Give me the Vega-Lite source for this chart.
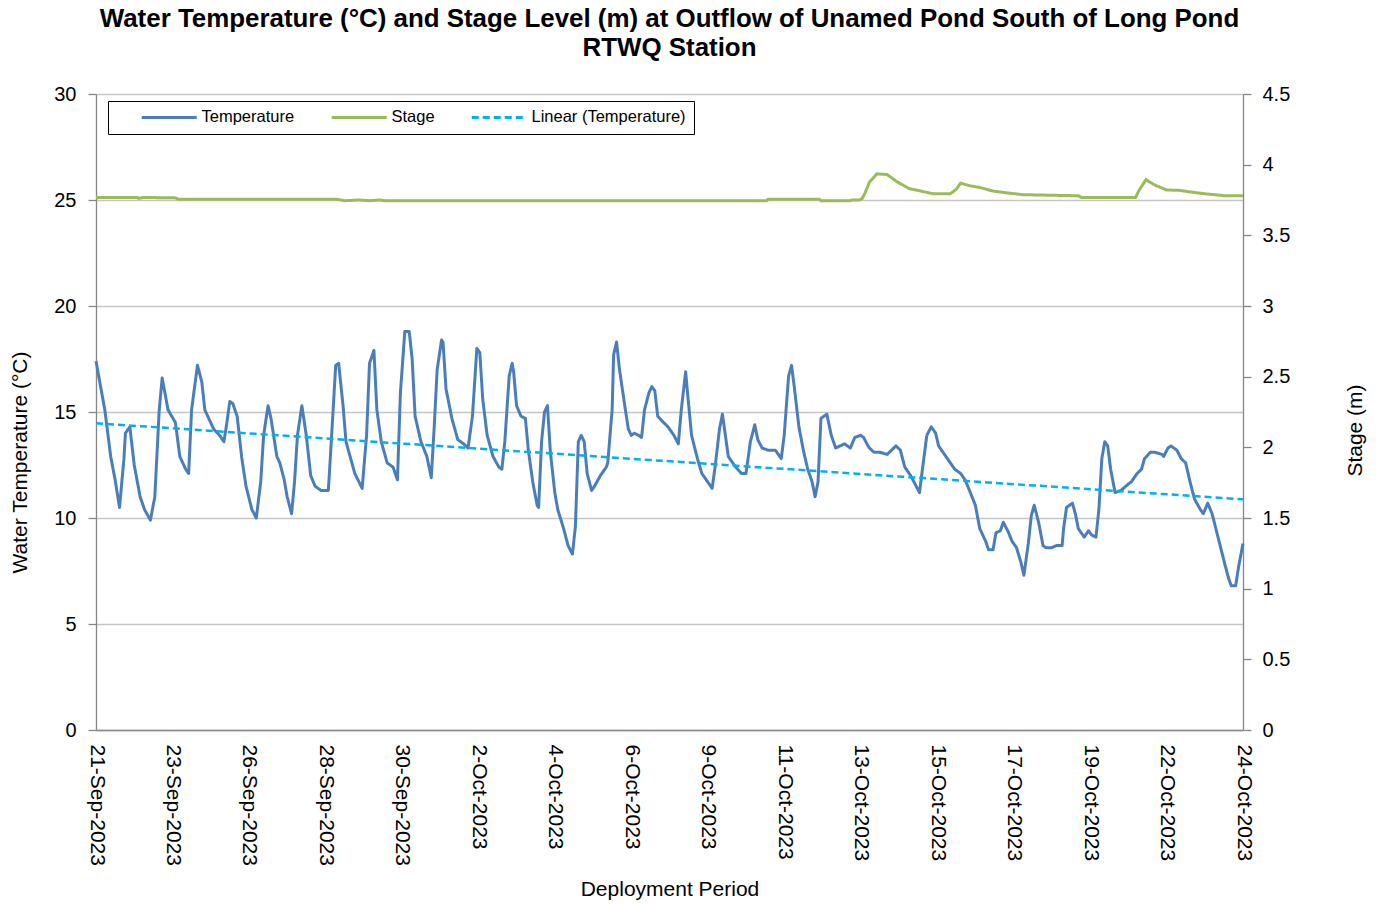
{
  "$schema": "https://vega.github.io/schema/vega-lite/v6.json",
  "width": 1147,
  "height": 636,
  "autosize": {"type": "none"},
  "padding": {"left": 96, "top": 94, "right": 138, "bottom": 174},
  "background": "white",
  "title": {
    "text": ["Water Temperature (°C) and Stage Level (m) at Outflow of Unamed Pond South of Long Pond", "RTWQ Station"],
    "font": "Liberation Sans", "fontSize": 25.9, "fontWeight": "bold", "color": "black",
    "anchor": "middle", "lineHeight": 29, "offset": 22
  },
  "config": {
    "view": {"stroke": null},
    "font": "Liberation Sans",
    "axis": {
      "labelFont": "Liberation Sans", "titleFont": "Liberation Sans",
      "labelColor": "black", "titleColor": "black", "titleFontWeight": "normal",
      "domainColor": "#868686", "tickColor": "#868686", "gridColor": "#C6C6C6",
      "domainWidth": 1.3, "gridWidth": 1.3, "tickWidth": 1.3
    }
  },
  "datasets": {
    "temperature": [
      {"time": "2023-09-21T17:00", "temp": 17.4}, {"time": "2023-09-21T23:00", "temp": 15.1},
      {"time": "2023-09-22T03:00", "temp": 12.9}, {"time": "2023-09-22T06:00", "temp": 11.8}, {"time": "2023-09-22T09:00", "temp": 10.5}, {"time": "2023-09-22T12:00", "temp": 12.8}, {"time": "2023-09-22T13:00", "temp": 14.0}, {"time": "2023-09-22T16:00", "temp": 14.3}, {"time": "2023-09-22T19:00", "temp": 12.5}, {"time": "2023-09-22T23:00", "temp": 11.0},
      {"time": "2023-09-23T02:00", "temp": 10.4}, {"time": "2023-09-23T06:00", "temp": 9.9}, {"time": "2023-09-23T09:00", "temp": 11.0}, {"time": "2023-09-23T12:00", "temp": 15.1}, {"time": "2023-09-23T14:00", "temp": 16.6}, {"time": "2023-09-23T18:00", "temp": 15.1}, {"time": "2023-09-23T23:00", "temp": 14.5},
      {"time": "2023-09-24T02:00", "temp": 12.9}, {"time": "2023-09-24T06:00", "temp": 12.3}, {"time": "2023-09-24T08:00", "temp": 12.1}, {"time": "2023-09-24T10:00", "temp": 15.1}, {"time": "2023-09-24T14:00", "temp": 17.2}, {"time": "2023-09-24T17:00", "temp": 16.4}, {"time": "2023-09-24T19:00", "temp": 15.1},
      {"time": "2023-09-25T01:00", "temp": 14.2}, {"time": "2023-09-25T05:00", "temp": 13.9}, {"time": "2023-09-25T08:00", "temp": 13.6}, {"time": "2023-09-25T10:00", "temp": 14.5}, {"time": "2023-09-25T12:00", "temp": 15.5}, {"time": "2023-09-25T14:00", "temp": 15.4}, {"time": "2023-09-25T17:00", "temp": 14.8}, {"time": "2023-09-25T20:00", "temp": 12.9}, {"time": "2023-09-25T23:00", "temp": 11.5},
      {"time": "2023-09-26T03:00", "temp": 10.4}, {"time": "2023-09-26T06:00", "temp": 10.0}, {"time": "2023-09-26T09:00", "temp": 11.7}, {"time": "2023-09-26T11:00", "temp": 13.9}, {"time": "2023-09-26T14:00", "temp": 15.3}, {"time": "2023-09-26T16:00", "temp": 14.7}, {"time": "2023-09-26T20:00", "temp": 12.9}, {"time": "2023-09-26T22:00", "temp": 12.6},
      {"time": "2023-09-27T01:00", "temp": 11.8}, {"time": "2023-09-27T03:00", "temp": 11.0}, {"time": "2023-09-27T06:00", "temp": 10.2}, {"time": "2023-09-27T08:00", "temp": 11.7}, {"time": "2023-09-27T10:00", "temp": 13.9}, {"time": "2023-09-27T13:00", "temp": 15.3}, {"time": "2023-09-27T16:00", "temp": 13.9}, {"time": "2023-09-27T19:00", "temp": 12.0}, {"time": "2023-09-27T22:00", "temp": 11.5},
      {"time": "2023-09-28T02:00", "temp": 11.3}, {"time": "2023-09-28T07:00", "temp": 11.3}, {"time": "2023-09-28T09:00", "temp": 13.6}, {"time": "2023-09-28T12:00", "temp": 17.2}, {"time": "2023-09-28T14:00", "temp": 17.3}, {"time": "2023-09-28T17:00", "temp": 15.3}, {"time": "2023-09-28T19:00", "temp": 13.6},
      {"time": "2023-09-29T01:00", "temp": 12.1}, {"time": "2023-09-29T06:00", "temp": 11.4}, {"time": "2023-09-29T09:00", "temp": 13.9}, {"time": "2023-09-29T11:00", "temp": 17.3}, {"time": "2023-09-29T14:00", "temp": 17.9}, {"time": "2023-09-29T16:00", "temp": 15.1}, {"time": "2023-09-29T19:00", "temp": 13.6}, {"time": "2023-09-29T23:00", "temp": 12.6},
      {"time": "2023-09-30T03:00", "temp": 12.4}, {"time": "2023-09-30T06:00", "temp": 11.8}, {"time": "2023-09-30T08:00", "temp": 15.9}, {"time": "2023-09-30T11:00", "temp": 18.8}, {"time": "2023-09-30T14:00", "temp": 18.8}, {"time": "2023-09-30T16:00", "temp": 17.5}, {"time": "2023-09-30T18:00", "temp": 14.8}, {"time": "2023-09-30T22:00", "temp": 13.6},
      {"time": "2023-10-01T02:00", "temp": 12.9}, {"time": "2023-10-01T05:00", "temp": 11.9}, {"time": "2023-10-01T07:00", "temp": 14.3}, {"time": "2023-10-01T09:00", "temp": 17.0}, {"time": "2023-10-01T12:00", "temp": 18.4}, {"time": "2023-10-01T13:00", "temp": 18.3}, {"time": "2023-10-01T15:00", "temp": 16.1}, {"time": "2023-10-01T19:00", "temp": 14.7}, {"time": "2023-10-01T23:00", "temp": 13.7},
      {"time": "2023-10-02T03:00", "temp": 13.5}, {"time": "2023-10-02T06:00", "temp": 13.3}, {"time": "2023-10-02T09:00", "temp": 14.8}, {"time": "2023-10-02T12:00", "temp": 18.0}, {"time": "2023-10-02T14:00", "temp": 17.8}, {"time": "2023-10-02T16:00", "temp": 15.6}, {"time": "2023-10-02T19:00", "temp": 13.9}, {"time": "2023-10-02T23:00", "temp": 12.9},
      {"time": "2023-10-03T03:00", "temp": 12.4}, {"time": "2023-10-03T05:00", "temp": 12.3}, {"time": "2023-10-03T07:00", "temp": 13.6}, {"time": "2023-10-03T10:00", "temp": 16.7}, {"time": "2023-10-03T12:00", "temp": 17.3}, {"time": "2023-10-03T13:00", "temp": 16.9}, {"time": "2023-10-03T15:00", "temp": 15.3}, {"time": "2023-10-03T18:00", "temp": 14.8}, {"time": "2023-10-03T21:00", "temp": 14.7}, {"time": "2023-10-03T23:00", "temp": 13.2},
      {"time": "2023-10-04T02:00", "temp": 11.7}, {"time": "2023-10-04T05:00", "temp": 10.6}, {"time": "2023-10-04T06:00", "temp": 10.5}, {"time": "2023-10-04T08:00", "temp": 13.6}, {"time": "2023-10-04T10:00", "temp": 15.0}, {"time": "2023-10-04T12:00", "temp": 15.3}, {"time": "2023-10-04T14:00", "temp": 13.1}, {"time": "2023-10-04T17:00", "temp": 11.2}, {"time": "2023-10-04T19:00", "temp": 10.4}, {"time": "2023-10-04T23:00", "temp": 9.5},
      {"time": "2023-10-05T02:00", "temp": 8.7}, {"time": "2023-10-05T05:00", "temp": 8.3}, {"time": "2023-10-05T07:00", "temp": 9.6}, {"time": "2023-10-05T09:00", "temp": 13.6}, {"time": "2023-10-05T11:00", "temp": 13.9}, {"time": "2023-10-05T13:00", "temp": 13.6}, {"time": "2023-10-05T15:00", "temp": 12.1}, {"time": "2023-10-05T18:00", "temp": 11.3}, {"time": "2023-10-05T20:00", "temp": 11.5},
      {"time": "2023-10-06T00:00", "temp": 12.0}, {"time": "2023-10-06T04:00", "temp": 12.4}, {"time": "2023-10-06T05:00", "temp": 12.6}, {"time": "2023-10-06T08:00", "temp": 15.1}, {"time": "2023-10-06T09:00", "temp": 17.7}, {"time": "2023-10-06T11:00", "temp": 18.3}, {"time": "2023-10-06T13:00", "temp": 17.0}, {"time": "2023-10-06T17:00", "temp": 15.1}, {"time": "2023-10-06T19:00", "temp": 14.2}, {"time": "2023-10-06T21:00", "temp": 13.9}, {"time": "2023-10-06T23:00", "temp": 14.0},
      {"time": "2023-10-07T02:00", "temp": 13.9}, {"time": "2023-10-07T04:00", "temp": 13.8}, {"time": "2023-10-07T06:00", "temp": 15.1}, {"time": "2023-10-07T09:00", "temp": 15.9}, {"time": "2023-10-07T11:00", "temp": 16.2}, {"time": "2023-10-07T13:00", "temp": 16.0}, {"time": "2023-10-07T15:00", "temp": 14.8}, {"time": "2023-10-07T19:00", "temp": 14.5}, {"time": "2023-10-07T22:00", "temp": 14.3},
      {"time": "2023-10-08T02:00", "temp": 13.9}, {"time": "2023-10-08T05:00", "temp": 13.5}, {"time": "2023-10-08T07:00", "temp": 15.1}, {"time": "2023-10-08T10:00", "temp": 16.9}, {"time": "2023-10-08T11:00", "temp": 16.1}, {"time": "2023-10-08T14:00", "temp": 13.9}, {"time": "2023-10-08T18:00", "temp": 12.8}, {"time": "2023-10-08T21:00", "temp": 12.1},
      {"time": "2023-10-09T00:00", "temp": 11.8}, {"time": "2023-10-09T04:00", "temp": 11.4}, {"time": "2023-10-09T06:00", "temp": 12.4}, {"time": "2023-10-09T09:00", "temp": 14.2}, {"time": "2023-10-09T11:00", "temp": 14.9}, {"time": "2023-10-09T13:00", "temp": 13.9}, {"time": "2023-10-09T15:00", "temp": 12.9}, {"time": "2023-10-09T20:00", "temp": 12.4},
      {"time": "2023-10-10T00:00", "temp": 12.1}, {"time": "2023-10-10T03:00", "temp": 12.1}, {"time": "2023-10-10T06:00", "temp": 13.6}, {"time": "2023-10-10T09:00", "temp": 14.4}, {"time": "2023-10-10T11:00", "temp": 13.7}, {"time": "2023-10-10T14:00", "temp": 13.3}, {"time": "2023-10-10T18:00", "temp": 13.2}, {"time": "2023-10-10T23:00", "temp": 13.2},
      {"time": "2023-10-11T03:00", "temp": 12.8}, {"time": "2023-10-11T05:00", "temp": 13.9}, {"time": "2023-10-11T08:00", "temp": 16.7}, {"time": "2023-10-11T10:00", "temp": 17.2}, {"time": "2023-10-11T12:00", "temp": 16.1}, {"time": "2023-10-11T15:00", "temp": 14.3}, {"time": "2023-10-11T18:00", "temp": 13.2}, {"time": "2023-10-11T21:00", "temp": 12.3},
      {"time": "2023-10-12T00:00", "temp": 11.7}, {"time": "2023-10-12T02:00", "temp": 11.0}, {"time": "2023-10-12T04:00", "temp": 11.7}, {"time": "2023-10-12T06:00", "temp": 14.7}, {"time": "2023-10-12T08:00", "temp": 14.8}, {"time": "2023-10-12T10:00", "temp": 14.9}, {"time": "2023-10-12T13:00", "temp": 13.9}, {"time": "2023-10-12T16:00", "temp": 13.3}, {"time": "2023-10-12T19:00", "temp": 13.4}, {"time": "2023-10-12T22:00", "temp": 13.5},
      {"time": "2023-10-13T02:00", "temp": 13.3}, {"time": "2023-10-13T05:00", "temp": 13.8}, {"time": "2023-10-13T09:00", "temp": 13.9}, {"time": "2023-10-13T11:00", "temp": 13.8}, {"time": "2023-10-13T14:00", "temp": 13.4}, {"time": "2023-10-13T15:00", "temp": 13.3}, {"time": "2023-10-13T18:00", "temp": 13.1}, {"time": "2023-10-13T22:00", "temp": 13.1},
      {"time": "2023-10-14T03:00", "temp": 13.0}, {"time": "2023-10-14T06:00", "temp": 13.2}, {"time": "2023-10-14T09:00", "temp": 13.4}, {"time": "2023-10-14T12:00", "temp": 13.2}, {"time": "2023-10-14T15:00", "temp": 12.4}, {"time": "2023-10-14T19:00", "temp": 12.0}, {"time": "2023-10-14T22:00", "temp": 11.6},
      {"time": "2023-10-15T01:00", "temp": 11.2}, {"time": "2023-10-15T03:00", "temp": 12.3}, {"time": "2023-10-15T06:00", "temp": 13.9}, {"time": "2023-10-15T09:00", "temp": 14.3}, {"time": "2023-10-15T12:00", "temp": 14.0}, {"time": "2023-10-15T14:00", "temp": 13.4}, {"time": "2023-10-15T17:00", "temp": 13.1}, {"time": "2023-10-15T22:00", "temp": 12.6},
      {"time": "2023-10-16T01:00", "temp": 12.3}, {"time": "2023-10-16T05:00", "temp": 12.1}, {"time": "2023-10-16T08:00", "temp": 11.8}, {"time": "2023-10-16T11:00", "temp": 11.3}, {"time": "2023-10-16T15:00", "temp": 10.6}, {"time": "2023-10-16T18:00", "temp": 9.5}, {"time": "2023-10-16T22:00", "temp": 8.9},
      {"time": "2023-10-17T00:00", "temp": 8.5}, {"time": "2023-10-17T03:00", "temp": 8.5}, {"time": "2023-10-17T05:00", "temp": 9.3}, {"time": "2023-10-17T08:00", "temp": 9.4}, {"time": "2023-10-17T10:00", "temp": 9.8}, {"time": "2023-10-17T13:00", "temp": 9.4}, {"time": "2023-10-17T16:00", "temp": 8.9}, {"time": "2023-10-17T19:00", "temp": 8.6}, {"time": "2023-10-17T22:00", "temp": 7.9},
      {"time": "2023-10-18T00:00", "temp": 7.3}, {"time": "2023-10-18T03:00", "temp": 8.8}, {"time": "2023-10-18T05:00", "temp": 10.1}, {"time": "2023-10-18T07:00", "temp": 10.6}, {"time": "2023-10-18T10:00", "temp": 9.8}, {"time": "2023-10-18T13:00", "temp": 8.7}, {"time": "2023-10-18T15:00", "temp": 8.6}, {"time": "2023-10-18T19:00", "temp": 8.6}, {"time": "2023-10-18T22:00", "temp": 8.7},
      {"time": "2023-10-19T02:00", "temp": 8.7}, {"time": "2023-10-19T03:00", "temp": 9.5}, {"time": "2023-10-19T05:00", "temp": 10.5}, {"time": "2023-10-19T07:00", "temp": 10.6}, {"time": "2023-10-19T09:00", "temp": 10.7}, {"time": "2023-10-19T11:00", "temp": 10.2}, {"time": "2023-10-19T13:00", "temp": 9.5}, {"time": "2023-10-19T17:00", "temp": 9.1}, {"time": "2023-10-19T20:00", "temp": 9.4}, {"time": "2023-10-19T22:00", "temp": 9.2},
      {"time": "2023-10-20T01:00", "temp": 9.1}, {"time": "2023-10-20T03:00", "temp": 10.4}, {"time": "2023-10-20T05:00", "temp": 12.8}, {"time": "2023-10-20T07:00", "temp": 13.6}, {"time": "2023-10-20T09:00", "temp": 13.4}, {"time": "2023-10-20T11:00", "temp": 12.3}, {"time": "2023-10-20T14:00", "temp": 11.2}, {"time": "2023-10-20T18:00", "temp": 11.3}, {"time": "2023-10-20T23:00", "temp": 11.6},
      {"time": "2023-10-21T01:00", "temp": 11.7}, {"time": "2023-10-21T05:00", "temp": 12.1}, {"time": "2023-10-21T08:00", "temp": 12.3}, {"time": "2023-10-21T10:00", "temp": 12.8}, {"time": "2023-10-21T14:00", "temp": 13.1}, {"time": "2023-10-21T17:00", "temp": 13.1}, {"time": "2023-10-21T22:00", "temp": 13.0}, {"time": "2023-10-21T23:00", "temp": 12.9},
      {"time": "2023-10-22T02:00", "temp": 13.3}, {"time": "2023-10-22T04:00", "temp": 13.4}, {"time": "2023-10-22T08:00", "temp": 13.2}, {"time": "2023-10-22T11:00", "temp": 12.8}, {"time": "2023-10-22T14:00", "temp": 12.6}, {"time": "2023-10-22T17:00", "temp": 11.7}, {"time": "2023-10-22T20:00", "temp": 10.9},
      {"time": "2023-10-23T00:00", "temp": 10.4}, {"time": "2023-10-23T02:00", "temp": 10.2}, {"time": "2023-10-23T05:00", "temp": 10.7}, {"time": "2023-10-23T08:00", "temp": 10.2}, {"time": "2023-10-23T12:00", "temp": 9.1}, {"time": "2023-10-23T16:00", "temp": 8.0}, {"time": "2023-10-23T19:00", "temp": 7.2}, {"time": "2023-10-23T21:00", "temp": 6.8},
      {"time": "2023-10-24T00:00", "temp": 6.8}, {"time": "2023-10-24T02:00", "temp": 7.7}, {"time": "2023-10-24T05:00", "temp": 8.8}
    ],
    "trend": [
      {"time": "2023-09-21T17:00", "trend": 14.47},
      {"time": "2023-10-24T05:00", "trend": 10.88}
    ],
    "stage": [
      {"time": "2023-09-21T17:00", "stage": 3.768}, {"time": "2023-09-22T21:00", "stage": 3.768}, {"time": "2023-09-22T22:00", "stage": 3.762}, {"time": "2023-09-23T01:00", "stage": 3.768}, {"time": "2023-09-23T23:00", "stage": 3.765}, {"time": "2023-09-24T01:00", "stage": 3.755},
      {"time": "2023-09-28T13:00", "stage": 3.755}, {"time": "2023-09-28T18:00", "stage": 3.745}, {"time": "2023-09-29T04:00", "stage": 3.75}, {"time": "2023-09-29T11:00", "stage": 3.745}, {"time": "2023-09-29T18:00", "stage": 3.75}, {"time": "2023-09-29T22:00", "stage": 3.745},
      {"time": "2023-10-10T17:00", "stage": 3.745}, {"time": "2023-10-10T18:00", "stage": 3.755}, {"time": "2023-10-12T05:00", "stage": 3.755}, {"time": "2023-10-12T06:00", "stage": 3.745},
      {"time": "2023-10-13T02:00", "stage": 3.745}, {"time": "2023-10-13T03:00", "stage": 3.75}, {"time": "2023-10-13T08:00", "stage": 3.75}, {"time": "2023-10-13T10:00", "stage": 3.76}, {"time": "2023-10-13T12:00", "stage": 3.8}, {"time": "2023-10-13T15:00", "stage": 3.877}, {"time": "2023-10-13T20:00", "stage": 3.935},
      {"time": "2023-10-14T03:00", "stage": 3.93}, {"time": "2023-10-14T10:00", "stage": 3.877}, {"time": "2023-10-14T18:00", "stage": 3.831}, {"time": "2023-10-15T02:00", "stage": 3.813}, {"time": "2023-10-15T10:00", "stage": 3.795}, {"time": "2023-10-15T22:00", "stage": 3.795},
      {"time": "2023-10-16T02:00", "stage": 3.826}, {"time": "2023-10-16T05:00", "stage": 3.869}, {"time": "2023-10-16T11:00", "stage": 3.851}, {"time": "2023-10-16T18:00", "stage": 3.839}, {"time": "2023-10-17T03:00", "stage": 3.813}, {"time": "2023-10-17T13:00", "stage": 3.8}, {"time": "2023-10-17T23:00", "stage": 3.788},
      {"time": "2023-10-18T12:00", "stage": 3.785}, {"time": "2023-10-19T13:00", "stage": 3.78}, {"time": "2023-10-19T15:00", "stage": 3.768}, {"time": "2023-10-21T04:00", "stage": 3.768}, {"time": "2023-10-21T06:00", "stage": 3.813}, {"time": "2023-10-21T11:00", "stage": 3.894}, {"time": "2023-10-21T17:00", "stage": 3.856},
      {"time": "2023-10-22T01:00", "stage": 3.821}, {"time": "2023-10-22T10:00", "stage": 3.818}, {"time": "2023-10-22T18:00", "stage": 3.806}, {"time": "2023-10-23T04:00", "stage": 3.793}, {"time": "2023-10-23T17:00", "stage": 3.78}, {"time": "2023-10-24T05:00", "stage": 3.78}
    ]
  },
  "encoding": {
    "x": {
      "field": "time", "type": "temporal",
      "scale": {"domain": [{"year": 2023, "month": 9, "date": 21, "hours": 17}, {"year": 2023, "month": 10, "date": 24, "hours": 5}], "nice": false},
      "axis": {
        "title": "Deployment Period", "titleFontSize": 21, "titleY": 159, "titleBaseline": "middle",
        "values": [
          {"year": 2023, "month": 9, "date": 21, "hours": 17}, {"year": 2023, "month": 9, "date": 23, "hours": 21},
          {"year": 2023, "month": 9, "date": 26, "hours": 1}, {"year": 2023, "month": 9, "date": 28, "hours": 5},
          {"year": 2023, "month": 9, "date": 30, "hours": 9}, {"year": 2023, "month": 10, "date": 2, "hours": 13},
          {"year": 2023, "month": 10, "date": 4, "hours": 17}, {"year": 2023, "month": 10, "date": 6, "hours": 21},
          {"year": 2023, "month": 10, "date": 9, "hours": 1}, {"year": 2023, "month": 10, "date": 11, "hours": 5},
          {"year": 2023, "month": 10, "date": 13, "hours": 9}, {"year": 2023, "month": 10, "date": 15, "hours": 13},
          {"year": 2023, "month": 10, "date": 17, "hours": 17}, {"year": 2023, "month": 10, "date": 19, "hours": 21},
          {"year": 2023, "month": 10, "date": 22, "hours": 1}, {"year": 2023, "month": 10, "date": 24, "hours": 5}
        ],
        "format": "%-d-%b-%Y", "labelAngle": 90, "labelFontSize": 21, "labelPadding": 14,
        "labelOverlap": false, "labelFlush": false, "labelBound": false,
        "grid": false, "ticks": false
      }
    }
  },
  "layer": [
    {
      "data": {"name": "temperature", "format": {"parse": {"time": "date"}}},
      "mark": {"type": "line", "strokeWidth": 3, "strokeJoin": "round"},
      "encoding": {
        "y": {
          "field": "temp", "type": "quantitative",
          "scale": {"domain": [0, 30], "nice": false},
          "axis": {
            "values": [0, 5, 10, 15, 20, 25, 30], "format": "d", "grid": true,
            "tickSize": 8, "labelPadding": 12, "labelFontSize": 20,
            "title": "Water Temperature (°C)", "titleFontSize": 21, "titleAngle": -90,
            "titleX": -76, "titleY": 368, "titleAlign": "center", "titleBaseline": "middle"
          }
        },
        "color": {
          "datum": "Temperature", "type": "nominal",
          "scale": {"domain": ["Temperature", "Stage", "Linear (Temperature)"], "range": ["#4A7EBB", "#9BBB59", "#00B0F0"]},
          "legend": {
            "title": null, "orient": "none", "legendX": 12, "legendY": 7, "direction": "horizontal",
            "symbolType": "M-5,0H5", "symbolSize": 121, "symbolStrokeWidth": 3,
            "symbolOffset": 45, "columnPadding": 11, "padding": 8, "labelOffset": 24,
            "labelFont": "Liberation Sans", "labelFontSize": 16.5, "labelColor": "black",
            "strokeColor": "black", "fillColor": "white"
          }
        },
        "strokeDash": {
          "datum": "Temperature", "type": "nominal",
          "scale": {"domain": ["Temperature", "Stage", "Linear (Temperature)"], "range": [[1, 0], [1, 0], [7, 4]]},
          "legend": {"title": null}
        }
      }
    },
    {
      "data": {"name": "trend", "format": {"parse": {"time": "date"}}},
      "mark": {"type": "line", "strokeWidth": 2.5},
      "encoding": {
        "y": {"field": "trend", "type": "quantitative", "scale": {"domain": [0, 30], "nice": false}, "axis": null},
        "color": {"datum": "Linear (Temperature)", "type": "nominal"},
        "strokeDash": {"datum": "Linear (Temperature)", "type": "nominal"}
      }
    },
    {
      "data": {"name": "stage", "format": {"parse": {"time": "date"}}},
      "mark": {"type": "line", "strokeWidth": 3},
      "encoding": {
        "y": {
          "field": "stage", "type": "quantitative",
          "scale": {"domain": [0, 4.5], "nice": false},
          "axis": {
            "orient": "right", "values": [0, 0.5, 1, 1.5, 2, 2.5, 3, 3.5, 4, 4.5], "format": "~g",
            "grid": false, "tickSize": 8, "labelPadding": 11, "labelFontSize": 20,
            "title": "Stage (m)", "titleFontSize": 21, "titleAngle": -90,
            "titleX": 112, "titleY": 336, "titleAlign": "center", "titleBaseline": "middle"
          }
        },
        "color": {"datum": "Stage", "type": "nominal"},
        "strokeDash": {"datum": "Stage", "type": "nominal"}
      }
    }
  ],
  "resolve": {"scale": {"y": "independent"}}
}
